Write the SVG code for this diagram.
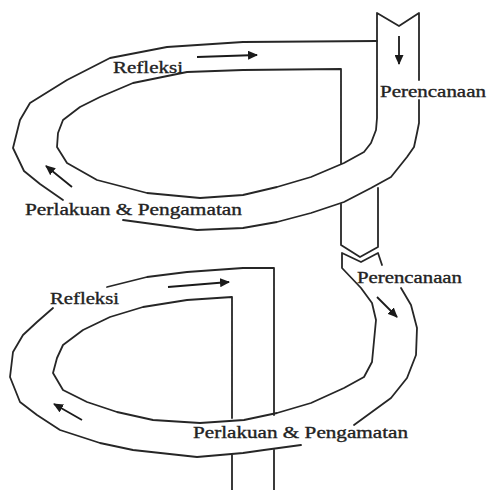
<svg xmlns="http://www.w3.org/2000/svg" width="488" height="490" viewBox="0 0 488 490">
<style>
.ln{fill:none;stroke:#262626;stroke-width:1.8;stroke-linejoin:round;stroke-linecap:round}
.ar{fill:none;stroke:#1a1a1a;stroke-width:1.8}
.tx{font-family:"Liberation Serif","Times New Roman",serif;font-size:16.5px;fill:#222;stroke:#222;stroke-width:0.35}
</style>
<defs>
<marker id="ah" viewBox="0 0 10 10" refX="9" refY="5" markerWidth="10" markerHeight="9" markerUnits="userSpaceOnUse" orient="auto" preserveAspectRatio="none">
<path d="M0,0 L10,5 L0,10 Z" fill="#1a1a1a"/>
</marker>
</defs>
<rect width="488" height="490" fill="#fff"/>
<g id="upper-loop">
<path class="ln" d="M341,164 L341,69 L243,70 L187,72 L133,83 L100,97 L80,107 L63,120 L58,133 L57,147 L67,163 L97,180 L147,193 L200,198 L243,195 L277,187 L311,177 L344,163 L364,152 L371,143 L376,130 L377,118 L377,13 L399,26 L419,13 L419,80"/>
<path class="ln" d="M419,100 L419,123 L417,133 L414,147 L407,157 L391,177 L371,188 L344,202 L311,213 L277,222 L243,228 L197,230 L123,220"/>
<path class="ln" d="M63,200 L40,184 L24,171 L13,148 L20,120 L30,103 L67,80 L110,58 L167,47 L243,42 L377,41"/>
</g>
<g id="column">
<path class="ln" d="M341,204 L341,245 L360,257 L378,247 L378,188"/>
</g>
<g id="lower-loop">
<path class="ln" d="M232,418 L232,297 L187,300 L143,307 L110,317 L83,330 L63,345 L57,358 L53,373 L63,390 L87,402 L117,412 L153,420 L200,423 L244,420 L277,413 L311,403 L344,388 L364,377 L372,362 L376,320 L372,303 L361,288 L342,268 L342,253 L361,262 L378,253 L382,265"/>
<path class="ln" d="M401,288 L411,305 L417,328 L416,355 L407,378 L391,398 L354,425"/>
<path class="ln" d="M301,445 L264,450 L243,453 L197,457 L133,450 L100,443 L60,430 L37,415 L20,402 L10,377 L13,352 L23,335 L37,322 L53,308"/>
<path class="ln" d="M107,287 L147,277 L187,272 L243,268 L274,268 L274,415"/>
<path class="ln" d="M274,450 L274,490 M232,455 L232,490"/>
</g>
<g id="connectors">
<line class="ar" x1="197" y1="57" x2="257" y2="55" marker-end="url(#ah)"/>
<line class="ar" x1="399" y1="36" x2="399" y2="64" marker-end="url(#ah)"/>
<line class="ar" x1="72" y1="187" x2="46" y2="166" marker-end="url(#ah)"/>
<line class="ar" x1="168" y1="287" x2="229" y2="282" marker-end="url(#ah)"/>
<line class="ar" x1="377" y1="297" x2="397" y2="317" marker-end="url(#ah)"/>
<line class="ar" x1="82" y1="420" x2="54" y2="404" marker-end="url(#ah)"/>
</g>
<g id="label-refleksi-1"><text class="tx" x="113" y="73" textLength="70" lengthAdjust="spacingAndGlyphs">Refleksi</text></g>
<g id="label-perencanaan-1"><text class="tx" x="380" y="97" textLength="106" lengthAdjust="spacingAndGlyphs">Perencanaan</text></g>
<g id="label-perlakuan-1"><text class="tx" x="25" y="215" textLength="217" lengthAdjust="spacingAndGlyphs">Perlakuan &amp; Pengamatan</text></g>
<g id="label-perencanaan-2"><text class="tx" x="357" y="283" textLength="105" lengthAdjust="spacingAndGlyphs">Perencanaan</text></g>
<g id="label-refleksi-2"><text class="tx" x="50" y="304" textLength="69" lengthAdjust="spacingAndGlyphs">Refleksi</text></g>
<g id="label-perlakuan-2"><text class="tx" x="193" y="438" textLength="215" lengthAdjust="spacingAndGlyphs">Perlakuan &amp; Pengamatan</text></g>
</svg>
